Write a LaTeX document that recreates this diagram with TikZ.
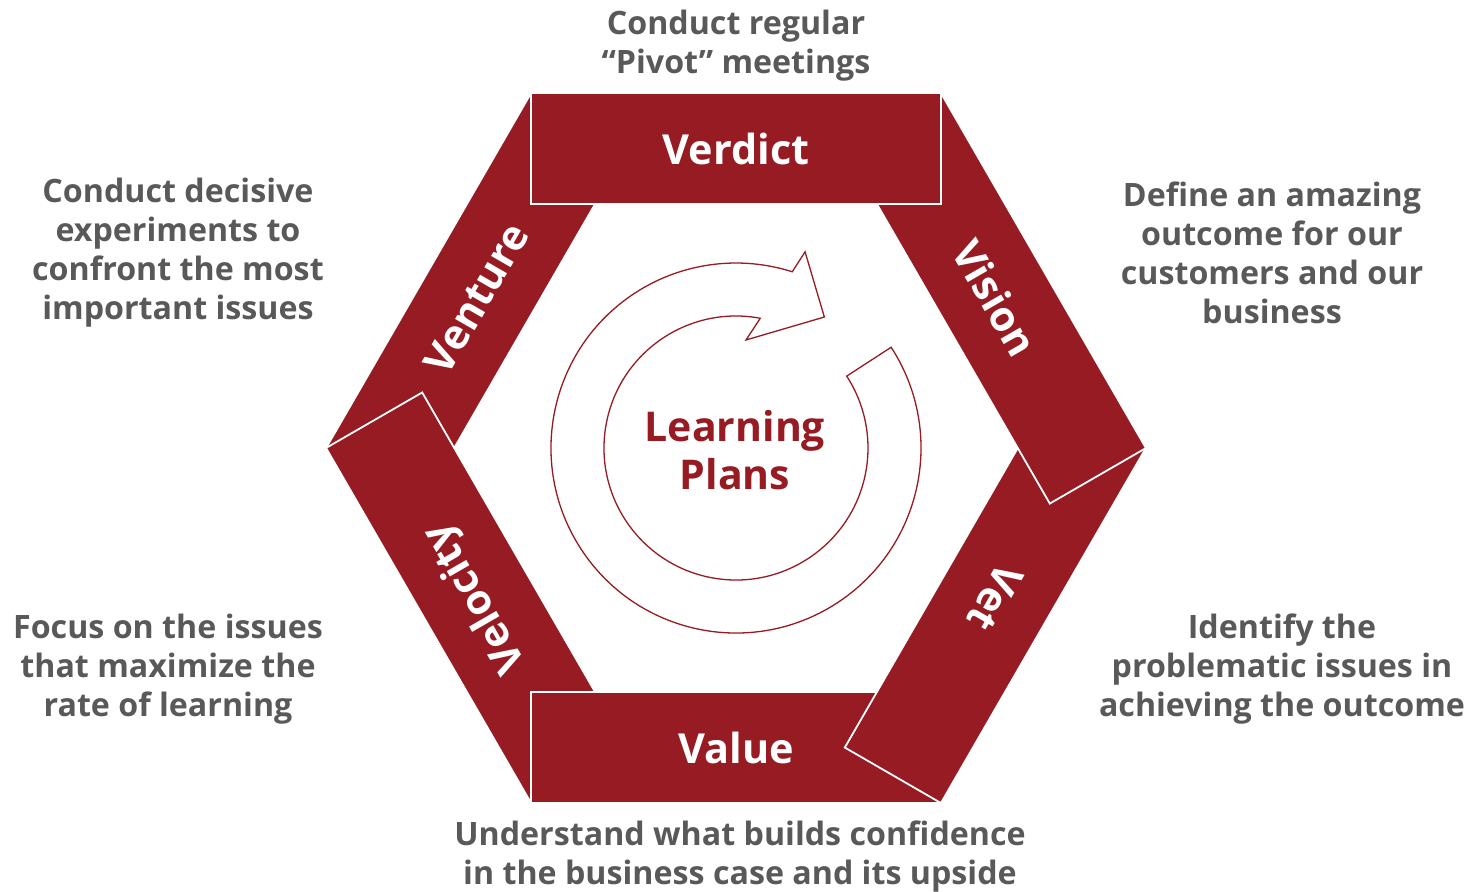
\documentclass[tikz,border=0pt]{standalone}
\usepackage{fontspec}
\setmainfont{Open Sans}
\usetikzlibrary{positioning,calc}
\definecolor{vred}{RGB}{150,27,34}
\definecolor{notegray}{RGB}{89,89,89}
\tikzset{
	band/.style = {fill=vred, draw=white, line width=0.9pt},
	bandlabel/.style = {text=white, font=\fontsize{20.7}{24}\selectfont\bfseries},
	note/.style = {text=notegray, font=\fontsize{16.1}{19.5}\selectfont\bfseries},
	ring/.style = {draw=vred, fill=white, line width=0.65pt}
}
% one side of the hexagon: name, side rotation, label rotation
\newcommand{\hexband}[3]{
	\begin{scope}[rotate=#2]
	\filldraw[band] (-205,244) rectangle (205,355);
	\node[bandlabel, rotate=#3] (#1) at (0,299.5) {#1};
	\end{scope}}

\begin{document}
\begin{tikzpicture}[
x = 0.5pt, y = 0.5pt,
every node/.style = {
	align = center,
	inner sep = 0pt,
}
]
\useasboundingbox (-736,-443) rectangle (735,448);

\hexband{Venture}{60}{60}
\hexband{Velocity}{120}{120}
\hexband{Value}{180}{0}
\hexband{Vet}{-120}{-120}
\hexband{Vision}{-60}{-60}
\hexband{Verdict}{0}{0}

\draw[ring] (33:185) arc[start angle=33, end angle=-287.7, radius=185]
	-- (70.6:208) -- (56:158) -- (84.7:108.5) -- (79.4:132)
	arc[start angle=79.4, end angle=393, radius=132] -- cycle;
\node[text=vred, font=\fontsize{20.5}{24}\selectfont\bfseries] (plans) at (-1,-2) {Learning\\Plans};

\node[note] (verdictnote) at (0,402) {Conduct regular\\``Pivot'' meetings};
\node[note] (visionnote) at (536,195) {Define an amazing\\outcome for our\\customers and our\\business};
\node[note] (vetnote) at (546,-221) {Identify the\\problematic issues in\\achieving the outcome};
\node[note] (valuenote) at (4,-409) {Understand what builds confidence\\in the business case and its upside};
\node[note] (velocitynote) at (-568,-221) {Focus on the issues\\that maximize the\\rate of learning};
\node[note] (venturenote) at (-558,195) {Conduct decisive\\experiments to\\confront the most\\important issues};

\end{tikzpicture}
\end{document}
